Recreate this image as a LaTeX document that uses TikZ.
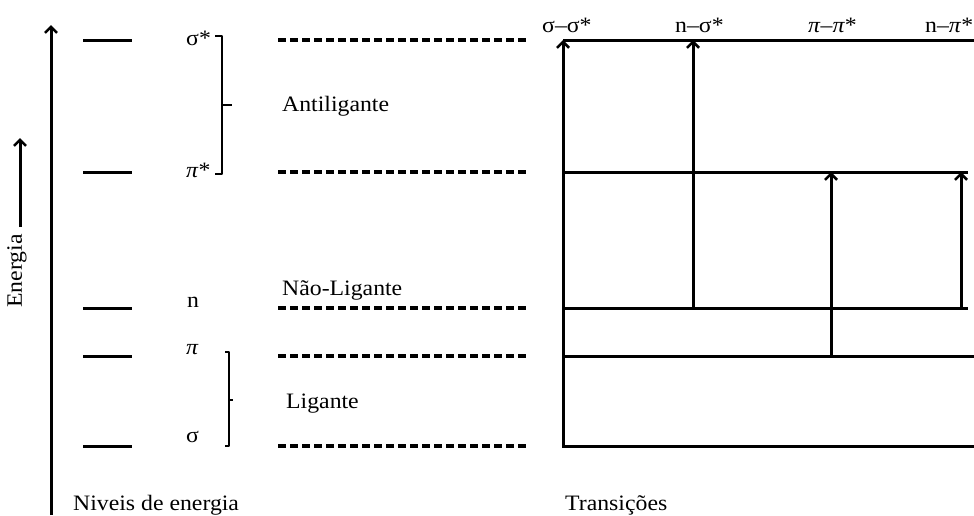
\documentclass[tikz,border=0pt]{standalone}
\usepackage{fontspec}
\setmainfont{Liberation Serif}[FakeStretch=1.08]
\usetikzlibrary{arrows.meta}
\begin{document}
\begin{tikzpicture}[x=1pt,y=-1pt,
  lvl/.style={line width=3pt},
  dashlvl/.style={line width=3.4pt, dash pattern=on 8pt off 4pt},
  conn/.style={line width=3pt, line join=miter},
  arr/.style={line width=3pt, line join=miter, -{Straight Barb[length=6pt,width=12pt,line width=2.6pt]}},
  brk/.style={line width=2.6pt, line join=round},
  lbl/.style={inner sep=0pt, font=\fontsize{22}{26}\selectfont}
]
\useasboundingbox (0,0) rectangle (974,515);

% energy axis
\coordinate (axb) at (51,515);
\coordinate (axt) at (51,25);
\draw[arr] (axb) -- (axt);
\coordinate (eb) at (20,227);
\coordinate (et) at (20,138);
\draw[arr] (eb) -- (et);
\node[lbl, rotate=90] (energia) at (17,271) {Energia};

% short solid levels and dashed levels
\foreach \n/\y in {ss/40, ps/172, nn/308, pp/356, sg/446}{
  \coordinate (\n L) at (83,\y);
  \coordinate (\n R) at (132,\y);
  \draw[lvl] (\n L) -- (\n R);
  \coordinate (\n DL) at (278,\y);
  \coordinate (\n DR) at (528,\y);
  \draw[dashlvl] (\n DL) -- (\n DR);
}

% level labels
\node[lbl, anchor=base west] (lss) at (186,45) {σ*};
\node[lbl, anchor=base west] (lps) at (186,177) {\textit{π}*};
\node[lbl, anchor=base west] (lnn) at (187,307) {n};
\node[lbl, anchor=base west] (lpp) at (186,354) {\textit{π}};
\node[lbl, anchor=base west] (lsg) at (186,442) {σ};

% brackets
\coordinate (a1) at (215,36);
\coordinate (a2) at (222,36);
\coordinate (a3) at (222,174);
\coordinate (a4) at (215,174);
\coordinate (am) at (222,105);
\coordinate (amr) at (232,105);
\draw[brk] (a1) -- (a2) -- (a3) -- (a4);
\draw[brk] (am) -- (amr);
\coordinate (b1) at (225,352);
\coordinate (b2) at (229,352);
\coordinate (b3) at (229,446);
\coordinate (b4) at (225,446);
\coordinate (bm) at (229,400);
\coordinate (bmr) at (233,400);
\draw[brk] (b1) -- (b2) -- (b3) -- (b4);
\draw[brk] (bm) -- (bmr);

% group labels
\node[lbl, anchor=base west] (anti) at (282,111) {Antiligante};
\node[lbl, anchor=base west] (nlig) at (282,295) {Não-Ligante};
\node[lbl, anchor=base west] (lig) at (286,408) {Ligante};
\node[lbl, anchor=base west] (niv) at (73,510) {Niveis de energia};
\node[lbl, anchor=base west] (trans) at (565,510) {Transições};

% transitions panel
\coordinate (c0) at (563,446);
\coordinate (c0e) at (974,446);
\coordinate (c0t) at (563,40);
\draw[arr] (c0e) -- (c0) -- (c0t);
\coordinate (h1a) at (563,40);  \coordinate (h1b) at (974,40);
\coordinate (h2a) at (563,172); \coordinate (h2b) at (968,172);
\coordinate (h3a) at (563,308); \coordinate (h3b) at (968,308);
\coordinate (h4a) at (563,356); \coordinate (h4b) at (974,356);
\draw[conn] (h1a) -- (h1b);
\draw[conn] (h2a) -- (h2b);
\draw[conn] (h3a) -- (h3b);
\draw[conn] (h4a) -- (h4b);

\coordinate (t2b) at (693,308); \coordinate (t2t) at (693,40);
\coordinate (t3b) at (831,356); \coordinate (t3t) at (831,172);
\coordinate (t4b) at (961,308); \coordinate (t4t) at (961,172);
\draw[arr] (t2b) -- (t2t);
\draw[arr] (t3b) -- (t3t);
\draw[arr] (t4b) -- (t4t);

% transition labels
\node[lbl, anchor=base west] (tl1) at (542,32) {σ–σ*};
\node[lbl, anchor=base west] (tl2) at (675,32) {n–σ*};
\node[lbl, anchor=base west] (tl3) at (808,32) {\textit{π}–\textit{π}*};
\node[lbl, anchor=base west] (tl4) at (925,32) {n–\textit{π}*};
\end{tikzpicture}
\end{document}
